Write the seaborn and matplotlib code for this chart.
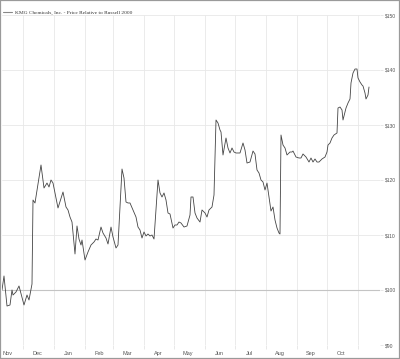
import numpy as np
import pandas as pd
import matplotlib
matplotlib.use("Agg")
import matplotlib.pyplot as plt
import matplotlib.dates as mdates
from matplotlib.patches import Rectangle
import seaborn as sns

# ---- data ----
start_date = "2013-11-10"
day_offsets = [0, 2, 5, 8, 10, 11, 14, 17, 22, 25, 27, 30, 31, 33, 39, 42, 45, 47, 49, 51,
               56, 61, 64, 66, 68, 70, 73, 75, 77, 79, 80, 83, 86, 89, 92, 94, 96, 99, 101,
               104, 106, 109, 111, 114, 116, 120, 122, 124, 126, 128, 131, 134, 136, 138,
               140, 142, 144, 146, 148, 150, 152, 156, 158, 160, 162, 164, 166, 168, 171,
               173, 175, 177, 179, 182, 185, 188, 189, 191, 193, 195, 198, 200, 203, 205,
               207, 210, 212, 214, 216, 218, 219, 221, 224, 226, 228, 230, 232, 234, 238,
               241, 243, 245, 248, 251, 253, 255, 257, 259, 261, 263, 265, 267, 269, 271,
               273, 275, 277, 278, 279, 281, 283, 285, 288, 290, 291, 294, 297, 299, 301,
               304, 307, 309, 311, 313, 315, 317, 320, 323, 325, 326, 328, 330, 332, 335,
               336, 338, 340, 341, 344, 346, 348, 349, 351, 353, 355, 356, 358, 360, 361,
               363, 364, 366, 367]
price_relative = [100.0, 102.55, 97.09, 97.27, 100.0, 99.09, 99.64, 100.73, 97.27, 99.09,
                  98.18, 101.09, 116.36, 115.82, 122.73, 118.55, 119.45, 118.73, 120.0,
                  119.45, 114.91, 117.82, 115.09, 114.55, 113.27, 112.36, 106.55, 111.64,
                  109.27, 108.18, 109.09, 105.45, 106.91, 108.18, 108.73, 109.27, 109.09,
                  111.45, 110.36, 109.45, 108.36, 111.45, 109.64, 107.64, 108.18, 122.0,
                  120.36, 116.0, 115.82, 115.82, 114.55, 113.27, 111.45, 110.91, 109.45,
                  110.55, 109.82, 110.18, 109.82, 110.0, 109.27, 120.0, 117.64, 116.91,
                  117.64, 116.36, 114.0, 113.82, 111.27, 111.82, 111.82, 112.36, 112.18,
                  111.45, 111.64, 113.64, 116.91, 116.91, 114.0, 113.09, 112.36, 114.55,
                  114.0, 113.27, 114.55, 115.09, 117.27, 130.91, 130.36, 129.09, 128.73,
                  124.55, 127.64, 125.82, 124.91, 125.82, 125.09, 124.91, 124.91, 126.73,
                  125.45, 123.09, 123.27, 125.27, 124.73, 121.82, 121.27, 120.0, 119.64,
                  118.18, 119.45, 116.91, 114.36, 115.09, 112.73, 111.27, 110.36, 110.18,
                  128.18, 126.36, 125.82, 124.55, 125.09, 125.09, 125.27, 124.18, 124.0,
                  124.0, 124.73, 124.18, 123.27, 124.0, 123.27, 123.82, 123.27, 123.27,
                  123.82, 124.18, 125.09, 126.36, 126.73, 127.64, 128.18, 128.55, 133.09,
                  133.27, 132.73, 130.91, 133.09, 134.0, 134.73, 137.64, 139.45, 140.18,
                  140.18, 138.55, 137.82, 137.27, 137.09, 135.82, 134.73, 135.45, 136.91]
month_labels = ["Nov", "Dec", "Jan", "Feb", "Mar", "Apr", "May", "Jun", "Jul", "Aug", "Sep", "Oct"]
y_ticks = [90, 100, 110, 120, 130, 140, 150]
series_name = "KMG Chemicals, Inc. - Price Relative to Russell 2000"

# ---- build frame ----
t0 = pd.Timestamp(start_date)
df = pd.DataFrame({
    "date": [t0 + pd.Timedelta(days=d) for d in day_offsets],
    "value": price_relative,
})

sns.set_theme(style="white")
plt.rcParams["font.family"] = ["Liberation Sans", "DejaVu Sans"]

fig = plt.figure(figsize=(4.0, 3.59), dpi=100)
ax = fig.add_axes([2 / 400, 1 - 345 / 359, 378 / 400, 330 / 359])

sns.lineplot(data=df, x="date", y="value", ax=ax, color="#444444", linewidth=0.6,
             label=series_name, legend=False)

ax.set_xlim(t0, t0 + pd.Timedelta(days=378))
ax.set_ylim(90, 150)

# month boundaries as gridlines, mid-month labels
first_month = pd.Timestamp("2013-11-01")
bounds = [first_month + pd.DateOffset(months=i) for i in range(1, 13)]
mids = [first_month + pd.DateOffset(months=i) + pd.Timedelta(days=14) for i in range(12)]
ax.set_xticks(bounds)
ax.set_xticklabels([])
ax.set_xticks(mids, minor=True)
ax.set_xticklabels(month_labels, minor=True)
ax.tick_params(axis="x", which="major", length=3, width=0.6, color="#e4e4e4", bottom=True)
ax.tick_params(axis="x", which="minor", length=0, labelsize=4.0, labelcolor="#555555", pad=4)

ax.yaxis.tick_right()
ax.set_yticks(y_ticks)
ax.set_yticklabels([f"${v}" for v in y_ticks])
ax.tick_params(axis="y", which="major", length=2, width=0.6, color="#e4e4e4",
               labelsize=3.6, labelcolor="#555555", pad=1.5)

ax.grid(True, axis="both", which="major", color="#e8e8e8", linewidth=0.6)
ax.axhline(100, color="#c4c4c4", linewidth=0.8, zorder=1)
for s in ax.spines.values():
    s.set_visible(False)
ax.set_xlabel("")
ax.set_ylabel("")

h, l = ax.get_legend_handles_labels()
fig.legend(h, l, loc="center left", bbox_to_anchor=(3 / 400, 1 - 13 / 359),
           frameon=False, borderpad=0, borderaxespad=0, handlelength=1.7,
           handletextpad=0.55,
           prop={"family": ["Liberation Serif", "DejaVu Serif"], "size": 3.9},
           labelcolor="#333333")
for lh in fig.legends[0].get_lines():
    lh.set_color("#888888")
    lh.set_linewidth(0.8)

fig.patches.append(Rectangle((0, 0), 1, 1, transform=fig.transFigure, fill=False,
                             edgecolor="#9a9a9a", linewidth=1.6))

fig.savefig("out.png", dpi=100)
